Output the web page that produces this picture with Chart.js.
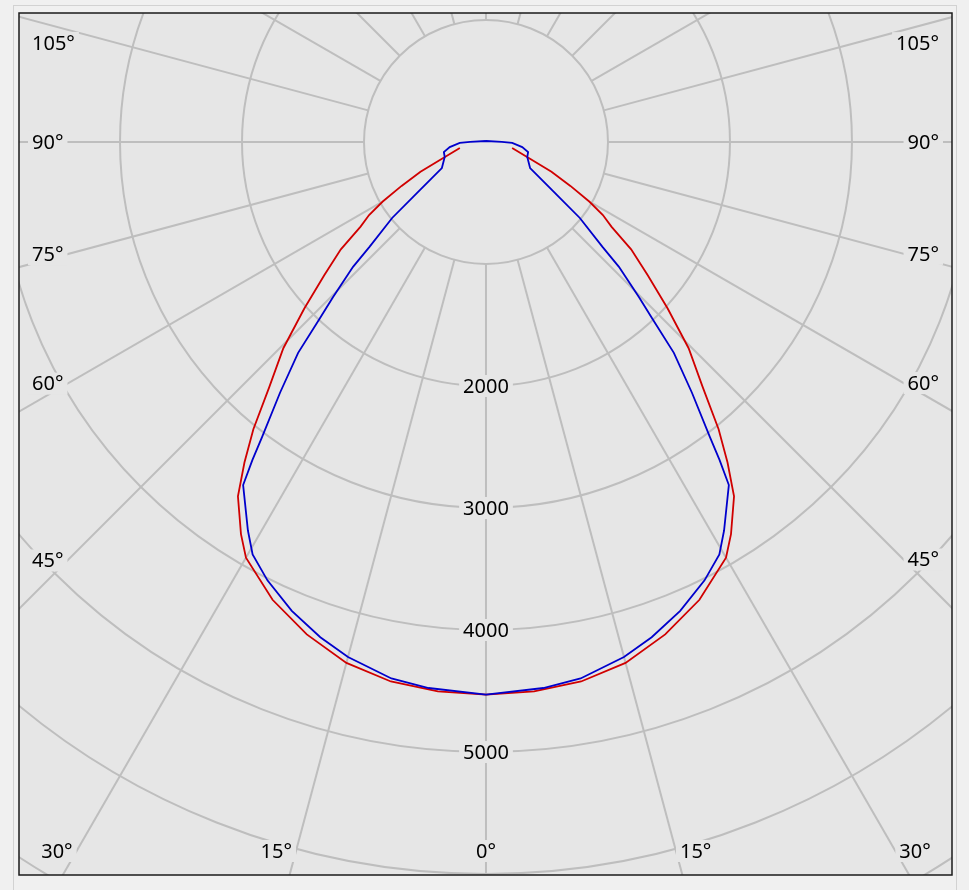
<!DOCTYPE html>
<html>
<head>
<meta charset="utf-8">
<script src="https://cdn.jsdelivr.net/npm/chart.js@4.4.0/dist/chart.umd.min.js"></script>
<style>
  html, body { margin: 0; padding: 0; background: #f0f0f0; }
  canvas { display: block; }
</style>
</head>
<body>
<canvas id="polar" width="969" height="890"></canvas>
<script>
// gamma angle (deg from nadir) and intensity (cd)
let redAngles = [0, 5, 10, 15, 20, 25, 30, 32, 35, 37, 39, 41.5, 44.5, 47.5, 50.5, 53.5, 56, 58, 60, 62.5, 65.5, 69, 77]
let redValues = [4530, 4520, 4490, 4420, 4295, 4140, 3935, 3790, 3545, 3290, 3030, 2680, 2370, 2020, 1720, 1480, 1240, 1130, 980, 780, 590, 390, 220]

let blueAngles = [0, 6, 10, 15, 18.5, 22.5, 26.5, 29.5, 31.5, 35.3, 36.3, 37.2, 39.4, 41.7, 43.3, 44.6, 46.8, 48, 51, 54, 59.4, 70, 76.6, 82, 88, 90, 180]
let blueValues = [4530, 4500, 4465, 4370, 4280, 4160, 4015, 3885, 3735, 3445, 3235, 3035, 2660, 2315, 1985, 1785, 1495, 1285, 990, 670, 420, 360, 355, 300, 215, 130, 8]

// grid
let ringValues = [1000, 2000, 3000, 4000, 5000, 6000, 7000, 8000]
let ringLabels = [2000, 3000, 4000, 5000]
let spokeAngles = []
for (let a = 0; a < 360; a += 15) spokeAngles.push(a)
let sideAngleLabels = [105, 90, 75, 60, 45]
let bottomAngleLabels = [30, 15, 0]

let plotBg = '#e6e6e6'
let gridColor = '#bebebe'
let labelFont = '20px "Noto Sans", sans-serif'

function rad(d) { return d * Math.PI / 180 }

// left half from top down to nadir, then right half back up
function toPoints(angles, values) {
    let pts = []
    for (let i = angles.length - 1; i >= 0; i--) {
        pts.push({x: -values[i] * Math.sin(rad(angles[i])), y: -values[i] * Math.cos(rad(angles[i]))})
    }
    for (let i = 1; i < angles.length; i++) {
        pts.push({x: values[i] * Math.sin(rad(angles[i])), y: -values[i] * Math.cos(rad(angles[i]))})
    }
    return pts
}

function labelBox(ctx, text, cx, cy, align) {
    let w = ctx.measureText(text).width
    let left = align === 'left' ? cx : align === 'right' ? cx - w : cx - w / 2
    ctx.fillStyle = plotBg
    ctx.fillRect(left - 4, cy - 11, w + 8, 22)
    ctx.fillStyle = '#000'
    ctx.textAlign = 'left'
    ctx.textBaseline = 'middle'
    ctx.fillText(text, left, cy + 1)
}

let polarGrid = {
    id: 'polarGrid',
    beforeDraw(chart) {
        let ctx = chart.ctx
        ctx.save()
        ctx.fillStyle = '#f0f0f0'
        ctx.fillRect(0, 0, chart.width, chart.height)
        ctx.strokeStyle = '#d2d2d2'
        ctx.lineWidth = 1
        ctx.strokeRect(13.5, 5.5, 943, 900)
        ctx.restore()
    },
    beforeDatasetsDraw(chart) {
        let ctx = chart.ctx
        let area = chart.chartArea
        let xs = chart.scales.x, ys = chart.scales.y
        let cx = xs.getPixelForValue(0), cy = ys.getPixelForValue(0)
        let k = (xs.getPixelForValue(1000) - cx) / 1000

        ctx.save()
        ctx.fillStyle = plotBg
        ctx.fillRect(area.left, area.top, area.right - area.left, area.bottom - area.top)
        ctx.beginPath()
        ctx.rect(area.left, area.top, area.right - area.left, area.bottom - area.top)
        ctx.clip()

        ctx.strokeStyle = gridColor
        ctx.lineWidth = 2
        ringValues.forEach(r => {
            ctx.beginPath()
            ctx.arc(cx, cy, r * k, 0, Math.PI * 2)
            ctx.stroke()
        })
        let r0 = ringValues[0] * k, r1 = 12000 * k
        spokeAngles.forEach(a => {
            let dx = Math.sin(rad(a)), dy = Math.cos(rad(a))
            ctx.beginPath()
            ctx.moveTo(cx + dx * r0, cy + dy * r0)
            ctx.lineTo(cx + dx * r1, cy + dy * r1)
            ctx.stroke()
        })

        ctx.font = labelFont
        ringLabels.forEach(v => {
            labelBox(ctx, String(v), cx, ys.getPixelForValue(-v), 'center')
        })

        // angle labels down the sides
        sideAngleLabels.forEach(g => {
            let text = g + '°'
            let w = ctx.measureText(text).width
            let t = Math.tan(rad(g))
            let xl = area.left + 13
            let edge = xl + w + 4
            let y = Math.abs(g - 90) < 0.01 ? cy : cy + (cx - edge) / t
            if (g > 90) y += 10
            labelBox(ctx, text, xl, y, 'left')
            let xr = area.right - 13
            let edgeR = xr - w - 4
            let yr = Math.abs(g - 90) < 0.01 ? cy : cy + (edgeR - cx) / t
            if (g > 90) yr += 10
            labelBox(ctx, text, xr, yr, 'right')
        })

        // angle labels along the bottom
        let yb = area.bottom - 24
        bottomAngleLabels.forEach(g => {
            let text = g + '°'
            if (g === 0) {
                labelBox(ctx, text, cx, yb, 'center')
                return
            }
            let off = (yb - cy) * Math.tan(rad(g))
            labelBox(ctx, text, cx - off - 4, yb, 'right')
            labelBox(ctx, text, cx + off + 4, yb, 'left')
        })
        ctx.restore()
    },
    afterDraw(chart) {
        let ctx = chart.ctx
        let area = chart.chartArea
        ctx.save()
        ctx.strokeStyle = '#1a1a1a'
        ctx.lineWidth = 1.5
        ctx.strokeRect(area.left, area.top, area.right - area.left, area.bottom - area.top)
        ctx.restore()
    }
}

new Chart('polar', {
    type: 'scatter',
    data: {
        datasets: [{
            label: 'C90-C270',
            data: toPoints(blueAngles, blueValues),
            borderColor: '#0000cc',
            borderWidth: 1.8,
            showLine: true,
            pointRadius: 0,
            tension: 0
        }, {
            label: 'C0-C180',
            data: toPoints(redAngles, redValues),
            borderColor: '#d00000',
            borderWidth: 1.8,
            showLine: true,
            pointRadius: 0,
            tension: 0
        }]
    },
    options: {
        responsive: false,
        animation: false,
        devicePixelRatio: 1,
        layout: {padding: {left: 19, top: 13, right: 17, bottom: 15}},
        scales: {
            x: {type: 'linear', min: -3828, max: 3820, display: false},
            y: {type: 'linear', min: -6008, max: 1057, display: false}
        },
        plugins: {
            legend: {display: false},
            tooltip: {enabled: false}
        }
    },
    plugins: [polarGrid]
})
</script>
</body>
</html>
